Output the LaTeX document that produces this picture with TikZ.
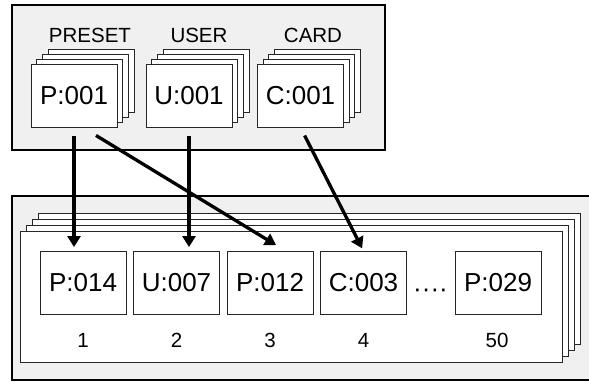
\documentclass[tikz,border=0pt]{standalone}
\usepackage{fontspec}
\setmainfont{Liberation Sans}
\usetikzlibrary{arrows.meta,calc}
\begin{document}
\begin{tikzpicture}[x=1pt,y=-1pt]
	\def\cardw{86pt}
	\def\cardh{63pt}
	\tikzstyle{panel} = [draw=black, line width=1.6pt, fill=black!6];
	\tikzstyle{sheet} = [draw=black!85, line width=0.9pt, fill=white];
	\tikzstyle{card} = [sheet, rectangle, minimum width=\cardw, minimum height=\cardh, inner sep=0pt, font=\fontsize{26}{30}\selectfont];
	\tikzstyle{plain} = [draw=none, fill=none, inner sep=0pt, font=\fontsize{20.5}{24}\selectfont];
	\tikzstyle{link} = [-{Triangle[length=11pt,width=13pt]}, line width=3.3pt];
	\useasboundingbox (0,0) rectangle (589,381);
	\draw[panel] (12,5) rectangle (385,150);
	\foreach \src/\x/\lx/\lab in {P/74/90/PRESET, U/189/199/USER, C/300.5/313/CARD}
	{
		\foreach \k in {3,2,1}
			\draw[sheet] (\x-43+5.7*\k,64-4.9*\k) rectangle ++(86,63);
		\node[card] (\src) at (\x,95.5) {\src:001};
		\node[plain, anchor=base] (\src-name) at (\lx,42) {\lab};
	}
	\draw[panel] (12,196) rectangle (595,380);
	\foreach \k in {3,2,1}
		\draw[sheet] (20+6*\k,231-6*\k) rectangle ++(542,131);
	\draw[sheet] (20,231) rectangle (562,362);
	\newcounter{slot};
	\setcounter{slot}{0};
	\foreach \item in {P:014,U:007,P:012,C:003}
	{
		\addtocounter{slot}{1};
		\node[card,name=s\theslot] at (83+93.5*\theslot-93.5,283) {\item};
		\node[plain] (n\theslot) at (83+93.5*\theslot-93.5,340) {\theslot};
	}
	\node[card] (s50) at (498,283) {P:029};
	\node[plain] (n50) at (497,340) {50};
	\node[plain, anchor=base, font=\fontsize{26}{30}\selectfont] (gap) at (430.5,297) {····};
	\draw[link] ($(P.south)+(0,9)$) -- ($(P.south |- s1.north)+(0,-4)$);
	\draw[link] ($(U.south)+(0,9)$) -- ($(U.south |- s2.north)+(0,-4)$);
	\draw[link] ($(P.south)+(22,8)$) -- ($(s3.north)+(6,-6)$);
	\draw[link, shorten <=9pt, shorten >=3pt] (C.south) -- (s4.north);
\end{tikzpicture}
\end{document}
